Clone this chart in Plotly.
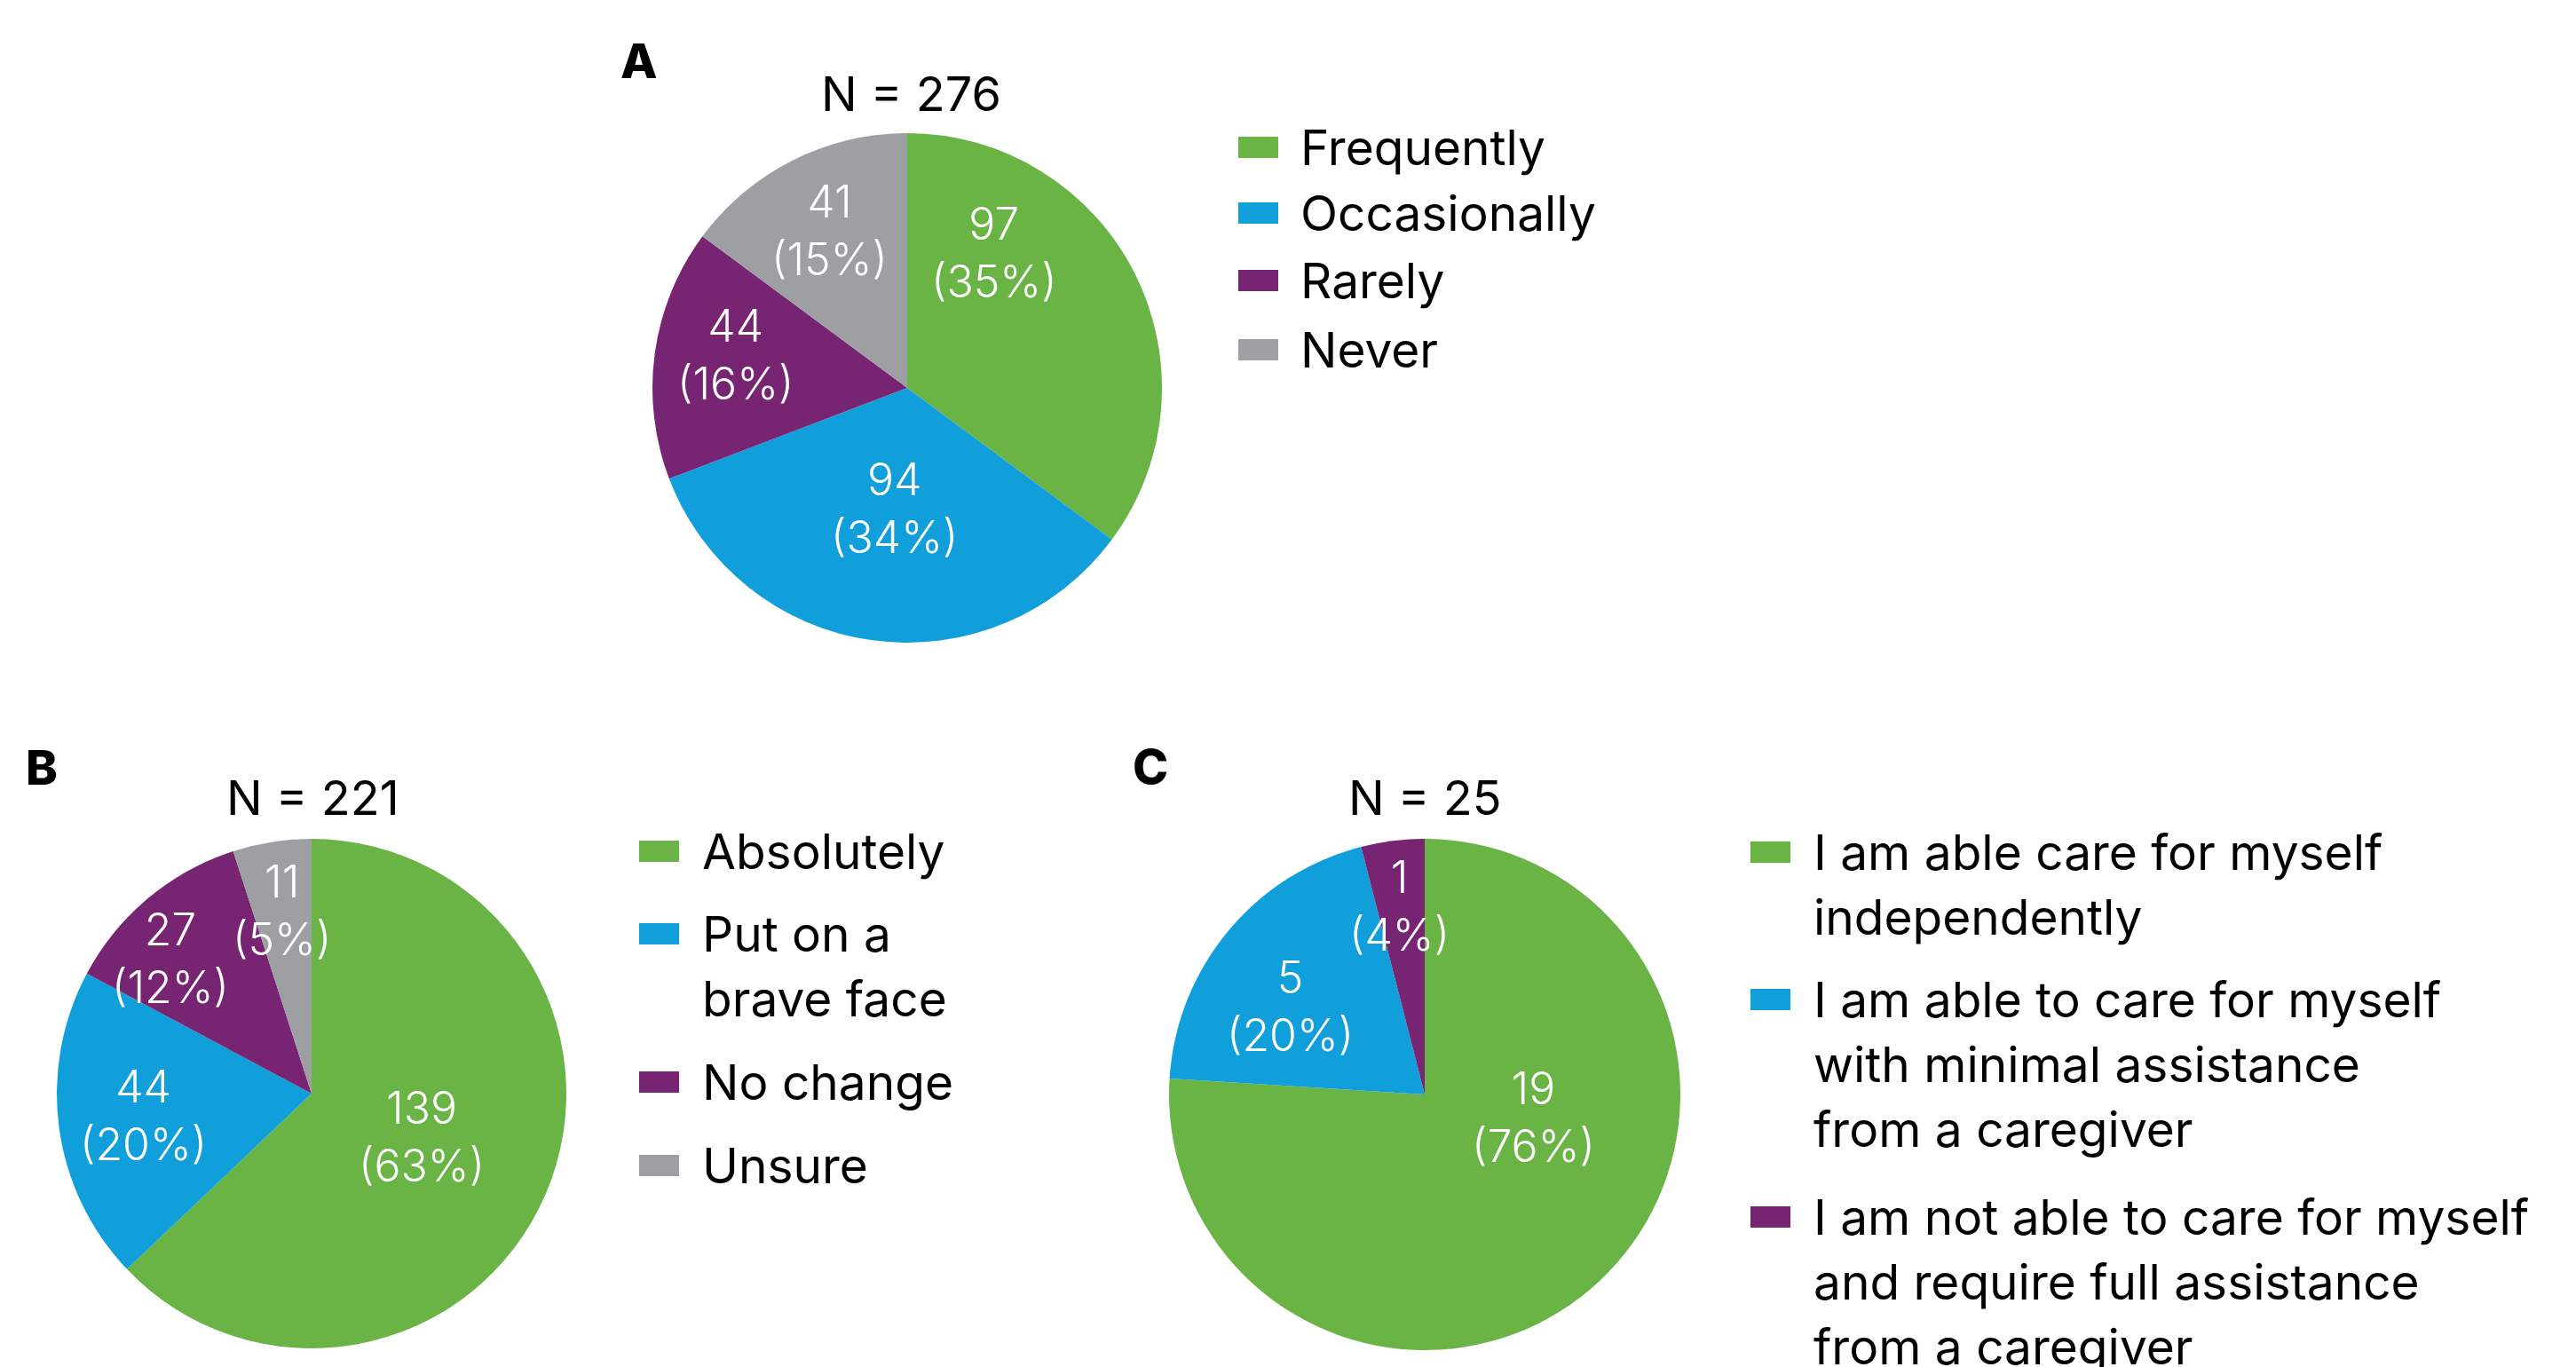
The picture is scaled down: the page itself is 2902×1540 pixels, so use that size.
import plotly.graph_objects as go

W, H = 2902, 1540

# ---- data -------------------------------------------------------------
a_labels = ["Frequently", "Occasionally", "Rarely", "Never"]
a_counts = [97, 94, 44, 41]

b_labels = ["Absolutely", "Put on a<br>brave face", "No change", "Unsure"]
b_counts = [139, 44, 27, 11]

c_labels = [
    "I am able care for myself<br>independently",
    "I am able to care for myself<br>with minimal assistance<br>from a caregiver",
    "I am not able to care for myself<br>and require full assistance<br>from a caregiver",
]
c_counts = [19, 5, 1]

slice_colors = ["#6ab446", "#119fdb", "#772572", "#9d9fa2"]

FONT = "Inter"
LEGEND_SIZE = 55
TITLE_SIZE = 54
VALUE_SIZE = 50
LETTER_SIZE = 54

# ---- layout of each panel (pixel positions) ---------------------------
panels = [
    dict(letter="A", labels=a_labels, counts=a_counts,
         center=(1022, 437), radius=287, letter_pos=(720, 68), title_pos=(1026, 106),
         label_offsets=[(98, -152), (-15, 135), (-194, -37), (-88, -177)],
         legend_x=1395, legend_text_x=1463, legend_y=[166, 240, 316, 394]),
    dict(letter="B", labels=b_labels, counts=b_counts,
         center=(351, 1232), radius=287, letter_pos=(47, 864), title_pos=(352, 898),
         label_offsets=[(124, 48), (-190, 24), (-159, -153), (-34, -207)],
         legend_x=720, legend_text_x=789, legend_y=[959, 1052, 1219, 1313]),
    dict(letter="C", labels=c_labels, counts=c_counts,
         center=(1605, 1233), radius=288, letter_pos=(1296, 863), title_pos=(1605, 898),
         label_offsets=[(122, 25), (-152, -100), (-29, -213)],
         legend_x=1972, legend_text_x=2041, legend_y=[960, 1126, 1371]),
]

LINE_GAP = 73
MARK_W, MARK_H = 45, 24


def px(x):
    return x / W


def py(y):
    return 1 - y / H


fig = go.Figure()
annotations = []
shapes = []

for p in panels:
    cx, cy = p["center"]
    r = p["radius"]
    n = len(p["counts"])
    total = sum(p["counts"])
    cols = slice_colors[:n]

    fig.add_trace(go.Pie(
        labels=[lab.replace("<br>", " ") for lab in p["labels"]],
        values=p["counts"],
        sort=False,
        direction="clockwise",
        rotation=0,
        marker=dict(colors=cols, line=dict(width=0)),
        textinfo="none",
        hoverinfo="label+value+percent",
        showlegend=False,
        domain=dict(x=[px(cx - r), px(cx + r)], y=[py(cy + r), py(cy - r)]),
    ))

    # value labels inside slices
    for cnt, (dx, dy) in zip(p["counts"], p["label_offsets"]):
        pct = round(100 * cnt / total)
        annotations.append(dict(
            x=px(cx + dx), y=py(cy + dy), xref="paper", yref="paper",
            text=f"{cnt}<br>({pct}%)", showarrow=False,
            xanchor="center", yanchor="middle", align="center",
            font=dict(family=FONT, size=VALUE_SIZE, color="white", weight=300),
        ))

    # sample size heading
    tx, ty = p["title_pos"]
    annotations.append(dict(
        x=px(tx), y=py(ty), xref="paper", yref="paper",
        text=f"N = {total}", showarrow=False, xanchor="center", yanchor="middle",
        font=dict(family=FONT, size=TITLE_SIZE, color="black"),
    ))

    # panel letter
    lx, ly = p["letter_pos"]
    annotations.append(dict(
        x=px(lx), y=py(ly), xref="paper", yref="paper",
        text=p["letter"], showarrow=False, xanchor="center", yanchor="middle",
        font=dict(family=FONT, size=LETTER_SIZE, color="black", weight=800),
    ))

    # legend
    for lab, col, my in zip(p["labels"], cols, p["legend_y"]):
        shapes.append(dict(
            type="rect", xref="paper", yref="paper",
            x0=px(p["legend_x"]), x1=px(p["legend_x"] + MARK_W),
            y0=py(my + MARK_H / 2), y1=py(my - MARK_H / 2),
            fillcolor=col, line=dict(width=0),
        ))
        for i, line in enumerate(lab.split("<br>")):
            annotations.append(dict(
                x=px(p["legend_text_x"]), y=py(my + i * LINE_GAP),
                xref="paper", yref="paper", text=line, showarrow=False,
                xanchor="left", yanchor="middle",
                font=dict(family=FONT, size=LEGEND_SIZE, color="black"),
            ))

fig.update_layout(
    width=W, height=H,
    margin=dict(l=0, r=0, t=0, b=0),
    paper_bgcolor="white", plot_bgcolor="white",
    annotations=annotations, shapes=shapes,
    showlegend=False,
)

fig.write_html("out.html")
